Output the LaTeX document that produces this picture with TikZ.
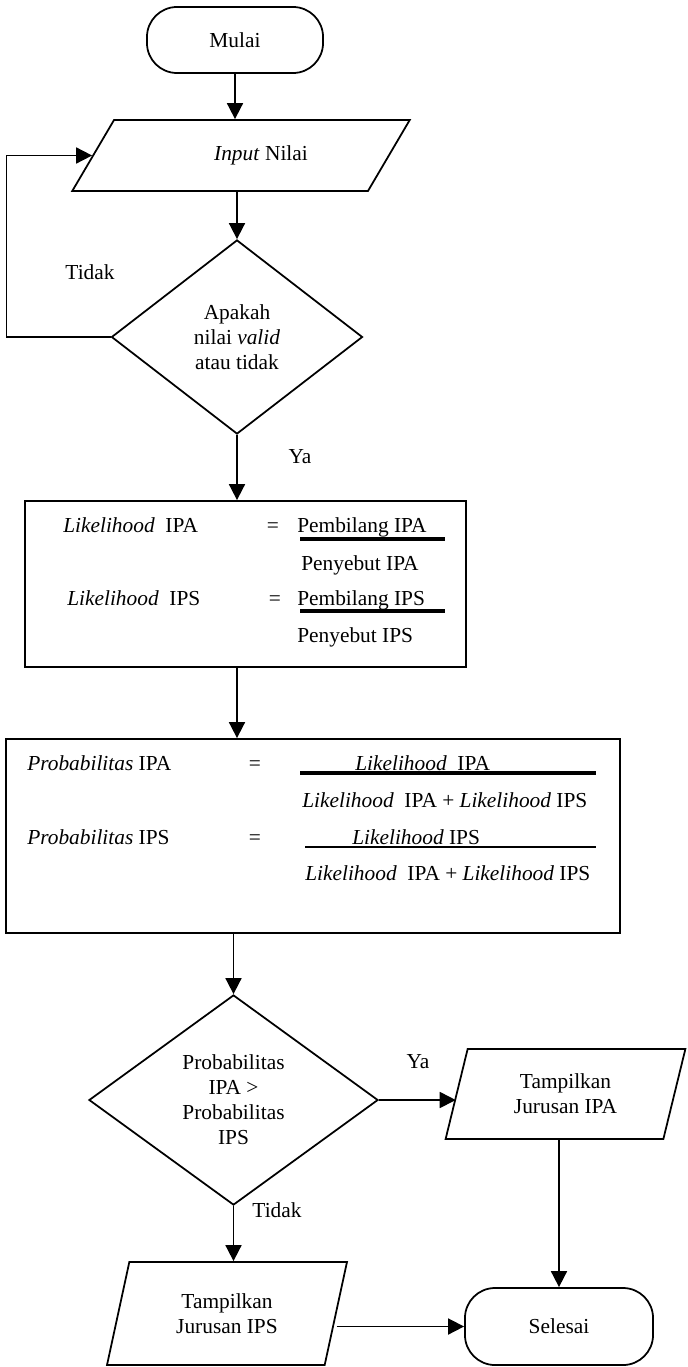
\documentclass[tikz,border=0pt]{standalone}
\usepackage{fontspec}
\setmainfont{Liberation Serif}
\usetikzlibrary{shapes.geometric,arrows.meta}

\begin{document}
\begin{tikzpicture}[x=0.025cm,y=-0.025cm,
    font=\fontsize{15.2}{17.8}\selectfont,
    every node/.style={inner sep=0pt},
    garis/.style={line width=1.25pt},
    panah/.style={garis,-{Triangle[length=0.4cm,width=0.4cm]}},
    terminal/.style={draw,garis,rectangle,rounded corners=0.75cm},
    proses/.style={draw,garis,rectangle},
    keputusan/.style={draw,garis,diamond,align=center},
    io/.style={draw,garis,trapezium,trapezium stretches=true,inner sep=2pt,align=center}]
        \useasboundingbox (0,0) rectangle (687,1367);

        % mulai dan input nilai
        \node[terminal,minimum width=4.4cm,minimum height=1.65cm] (mulai) at (235,40) {Mulai};
        \node[io,trapezium left angle=47.5,trapezium right angle=132.5,
              minimum width=8.45cm,minimum height=1.775cm] (input) at (241,155.5)
              {\hspace*{1cm}\textit{Input} Nilai};
        \node[keputusan,minimum width=6.275cm,minimum height=4.85cm] (cek) at (237,337)
              {Apakah\\nilai \textit{valid}\\atau tidak};

        \draw[panah] (mulai.south) -- (mulai.south |- input.north);
        \draw[panah] (cek.north |- input.south) -- (cek.north);
        \draw[panah] (cek.west) -- ++(-104,0) |- (input.west);
        \node (tidak1) at (90,272) {Tidak};

        % likelihood
        \node[proses,minimum width=11.025cm,minimum height=4.15cm] (hitung) at (245.5,584) {};
        \draw[panah] (cek.south) -- (cek.south |- hitung.north);
        \node (ya1) at (300,457) {Ya};

        \node[anchor=base west] (lipa) at (63,532) {\textit{Likelihood}\ \ IPA};
        \node[anchor=base] (eq1) at (273,532) {=};
        \node[anchor=base west] (bipa) at (297,532) {Pembilang IPA};
        \node[anchor=base west] (sipa) at (301,570) {Penyebut IPA};
        \node[anchor=base west] (lips) at (67,605) {\textit{Likelihood}\ \ IPS};
        \node[anchor=base] (eq2) at (275,605) {=};
        \node[anchor=base west] (bips) at (297,605) {Pembilang IPS};
        \node[anchor=base west] (sips) at (297,642) {Penyebut IPS};
        \draw[line width=2.2pt] (300,539) -- (445,539);
        \draw[line width=2.2pt] (300,611) -- (445,611);

        % probabilitas
        \node[proses,minimum width=15.35cm,minimum height=4.85cm] (prob) at (313,836) {};
        \draw[panah] (cek.south |- hitung.south) -- (cek.south |- prob.north);

        \node[anchor=base west] (pipa) at (27,770) {\textit{Probabilitas} IPA};
        \node[anchor=base] (eq3) at (255,770) {=};
        \node[anchor=base west] (nipa) at (355,770) {\textit{Likelihood}\ \ IPA};
        \node[anchor=base west] (dipa) at (302,807) {\textit{Likelihood}\ \ IPA + \textit{Likelihood} IPS};
        \node[anchor=base west] (pips) at (27,844) {\textit{Probabilitas} IPS};
        \node[anchor=base] (eq4) at (255,844) {=};
        \node[anchor=base west] (nips) at (352,844) {\textit{Likelihood} IPS};
        \node[anchor=base west] (dips) at (305,880) {\textit{Likelihood}\ \ IPA + \textit{Likelihood} IPS};
        \draw[line width=2.2pt] (300,773) -- (596,773);
        \draw[line width=1.6pt] (305,847) -- (596,847);

        % perbandingan
        \node[keputusan,minimum width=7.225cm,minimum height=5.25cm] (banding) at (233.5,1100)
              {Probabilitas\\IPA >\\Probabilitas\\IPS};
        \draw[panah] (banding.north |- prob.south) -- (banding.north);

        \node[io,trapezium left angle=75,trapezium right angle=105,
              minimum width=6.025cm,minimum height=2.25cm] (ipa) at (565.5,1094)
              {Tampilkan\\Jurusan IPA};
        \node[io,trapezium left angle=75,trapezium right angle=105,
              minimum width=6.05cm,minimum height=2.575cm] (ips) at (227,1313.5)
              {Tampilkan\\Jurusan IPS};
        \node[terminal,minimum width=4.7cm,minimum height=1.925cm] (selesai) at (559,1326.5) {Selesai};

        \draw[panah] (banding.east) -- (ipa.west |- banding.east);
        \node (ya2) at (418,1062) {Ya};
        \draw[panah] (banding.south) -- (banding.south |- ips.north);
        \node (tidak2) at (277,1210) {Tidak};
        \draw[panah] (selesai.north |- ipa.south) -- (selesai.north);
        \draw[panah] (selesai.west -| ips.east) -- (selesai.west);
\end{tikzpicture}
\end{document}
